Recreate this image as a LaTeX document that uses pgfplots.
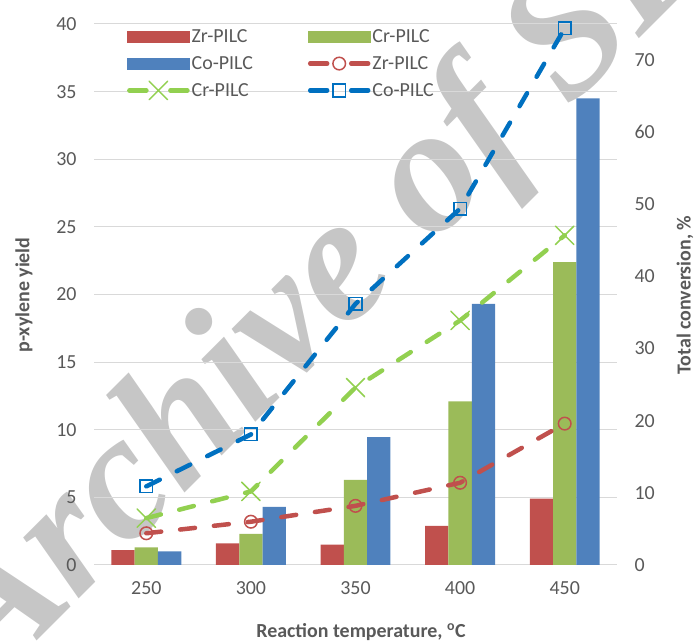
\documentclass[border=0pt]{standalone}
\usepackage{pgfplots}
\usepackage{pgfplotstable}
\pgfplotsset{compat=1.18}
\usepackage{fontspec}
\setmainfont{Carlito}
\newfontfamily\wmfont{Liberation Serif}

\definecolor{zrbar}{HTML}{C0504D}
\definecolor{crbar}{HTML}{9BBB59}
\definecolor{cobar}{HTML}{4F81BD}
\definecolor{zrline}{HTML}{C0504D}
\definecolor{crline}{HTML}{92D050}
\definecolor{coline}{HTML}{0070C0}
\definecolor{gridgray}{HTML}{D9D9D9}
\definecolor{tickgray}{HTML}{595959}
\definecolor{wmgray}{RGB}{198,198,198}

% p-xylene yield (bars, left axis); x = 0..4 stands for 250..450 C
\pgfplotstableread{
x zr cr co
0 1.1 1.3 1.0
1 1.6 2.3 4.3
2 1.5 6.3 9.45
3 2.9 12.1 19.3
4 4.9 22.4 34.5
}\yieldtable

% total conversion, % (dashed lines, right axis)
\pgfplotstableread{
x zr cr co
0 4.4 6.5 10.9
1 6.0 10.2 18.1
2 8.2 24.6 36.2
3 11.4 33.9 49.4
4 19.6 45.7 74.4
}\convtable

\pgfplotsset{
  common/.style={
    scale only axis, width=523bp, height=541bp,
    at={(94bp,79bp)}, anchor=south west,
    xmin=-0.5, xmax=4.5,
    axis line style={draw=none},
    major tick length=0pt,
    tick style={draw=none},
    tick label style={font=\fontsize{20}{24}\selectfont, text=tickgray},
    /pgf/number format/assume math mode=true,
  },
  barlegend/.style={legend image code/.code={
    \fill[#1] (0bp,-5.5bp) rectangle (62bp,5.5bp);}},
  linelegend/.style={legend image code/.code={
    \draw[solid, line cap=round] (2bp,0bp) -- (19bp,0bp);
    \draw[solid, line cap=round] (43bp,0bp) -- (60bp,0bp);
    \draw[solid] plot[only marks] coordinates {(31bp,0bp)};}},
  convline/.style={line width=4.5bp, line cap=round,
    dash pattern=on 15bp off 19bp,
    mark options={solid, line width=1.5bp}, linelegend},
}

\begin{document}
\begin{tikzpicture}
\useasboundingbox (0,0) rectangle (696bp,644bp);

% watermark
\begin{scope}
  \clip (0,0) rectangle (696bp,644bp);
  \node[rotate=45, anchor=base west, inner sep=0pt, text=wmgray,
        font=\fontsize{180}{180}\wmfont\bfseries\itshape]
        at (-8bp,-42bp) {Archive of SID};
\end{scope}

% bars: p-xylene yield
\begin{axis}[common,
    ybar=0pt, bar width=23.3bp,
    ymin=0, ymax=40, ytick={0,5,...,40},
    ymajorgrids, grid style={gridgray, line width=1bp},
    xtick={0,...,4}, xticklabels={250,300,350,400,450},
    xticklabel style={yshift=-13bp},
    yticklabel style={xshift=-14bp},
  ]
  \addplot[fill=zrbar, draw=none] table[x=x, y=zr] {\yieldtable};
  \addplot[fill=crbar, draw=none] table[x=x, y=cr] {\yieldtable};
  \addplot[fill=cobar, draw=none] table[x=x, y=co] {\yieldtable};
\end{axis}

% lines: total conversion
\begin{axis}[common,
    ymin=0, ymax=75, ytick={0,10,...,70},
    yticklabel pos=right, xtick=\empty,
    yticklabel style={xshift=14bp},
    legend columns=2,
    legend cell align=left,
    legend style={at={(axis description cs:0.063,0.994)}, anchor=north west,
      draw=none, fill=none, inner sep=0pt,
      font=\fontsize{20}{24}\selectfont, text=tickgray,
      row sep=8.5bp,
      /tikz/every even column/.append style={column sep=53bp}},
  ]
  \addlegendimage{barlegend=zrbar}
  \addlegendentry{Zr-PILC}
  \addlegendimage{barlegend=crbar}
  \addlegendentry{Cr-PILC}
  \addlegendimage{barlegend=cobar}
  \addlegendentry{Co-PILC}
  \addplot[zrline, convline, mark=o, mark size=6.3bp]
    table[x=x, y=zr] {\convtable};
  \addlegendentry{Zr-PILC}
  \addplot[crline, convline, mark=x, mark size=13bp]
    table[x=x, y=cr] {\convtable};
  \addlegendentry{Cr-PILC}
  \addplot[coline, convline, mark=square, mark size=6.3bp]
    table[x=x, y=co] {\convtable};
  \addlegendentry{Co-PILC}
\end{axis}

% axis titles
\node[font=\fontsize{20}{24}\selectfont\bfseries, text=tickgray, rotate=90]
  at (24bp,349bp) {p-xylene yield};
\node[font=\fontsize{20}{24}\selectfont\bfseries, text=tickgray, rotate=90]
  at (685bp,349bp) {Total conversion, \%};
\node[font=\fontsize{20}{24}\selectfont\bfseries, text=tickgray]
  at (361bp,12bp) {Reaction temperature, \textsuperscript{o}C};
\end{tikzpicture}
\end{document}
